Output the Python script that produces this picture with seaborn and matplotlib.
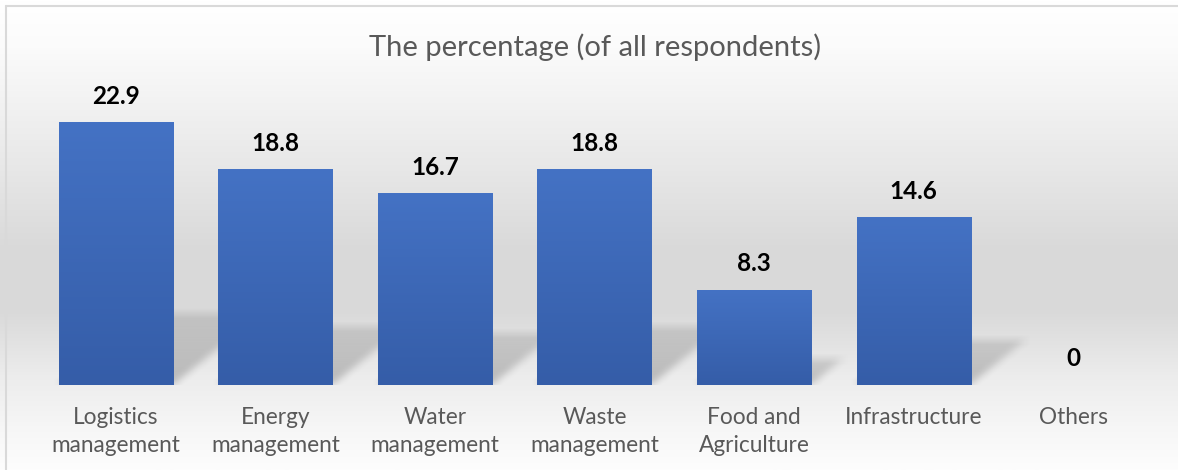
import numpy as np
import pandas as pd
import matplotlib
matplotlib.use("Agg")
import matplotlib.pyplot as plt
import seaborn as sns
from matplotlib.colors import LinearSegmentedColormap
from matplotlib.lines import Line2D

# ---- data ----
categories = ["Logistics\nmanagement", "Energy\nmanagement", "Water\nmanagement",
              "Waste\nmanagement", "Food and\nAgriculture", "Infrastructure", "Others"]
values = [22.9, 18.8, 16.7, 18.8, 8.3, 14.6, 0]
value_labels = ["22.9", "18.8", "16.7", "18.8", "8.3", "14.6", "0"]
title = "The percentage (of all respondents)"

sns.set_theme(style="white")
plt.rcParams["font.family"] = ["Lato", "DejaVu Sans"]

W, H = 1178, 470
fig = plt.figure(figsize=(W / 100, H / 100), dpi=100)

# background gradient over whole figure
bg = fig.add_axes([0, 0, 1, 1], zorder=-10)
stops = [(0.0, "#ffffff"), (0.10, "#fbfbfb"), (0.35, "#e8e8e8"), (0.52, "#dadada"),
         (0.66, "#d9d9d9"), (0.80, "#ececec"), (0.92, "#f7f7f7"), (1.0, "#fdfdfd")]
cmap_bg = LinearSegmentedColormap.from_list("bg", stops)
grad = np.linspace(0, 1, 256).reshape(-1, 1)
bg.imshow(grad, aspect="auto", cmap=cmap_bg, extent=[0, 1, 1, 0], origin="upper")
bg.set_xlim(0, 1); bg.set_ylim(1, 0)
bg.axis("off")
# border (top and left visible)
bg.add_line(Line2D([6 / W, 1], [6 / H, 6 / H], color="#d9d9d9", lw=1.5))
bg.add_line(Line2D([6 / W, 6 / W], [6 / H, 1], color="#d9d9d9", lw=1.5))

# main axes
left = 36 / W
width = 1117 / W
bottom = (H - 385) / H
ymax = 25
px_per_unit = 11.48
height = ymax * px_per_unit / H
ax = fig.add_axes([left, bottom, width, height])
ax.patch.set_alpha(0)

df = pd.DataFrame({"cat": categories, "val": values})
sns.barplot(data=df, x="cat", y="val", ax=ax, color="#4472C4", width=0.715,
            saturation=1, zorder=3)
ax.set_xlim(-0.5, len(categories) - 0.5)
ax.set_ylim(0, ymax)

# shadows (blurred perspective) rendered as an image in data coordinates
nx, ny = 900, 260
x0, x1 = -0.5, len(categories) - 0.5
y0, y1 = 0, ymax
xs = np.linspace(x0, x1, nx)
ys = np.linspace(y0, y1, ny)
X, Y = np.meshgrid(xs, ys)
mask = np.zeros_like(X)
bw = 0.715
for i, v in enumerate(values):
    if v <= 0:
        continue
    sh_h = 0.27 * v
    shift = 0.024 * v
    t = np.clip(Y / sh_h, 0, None)
    inside = (Y <= sh_h) & (X >= i - bw / 2 + shift * t) & (X <= i + bw / 2 + shift * t)
    mask = np.maximum(mask, inside * (0.55 + 0.45 * (1 - t)))

def blur(a, k, axis):
    kern = np.ones(k) / k
    return np.apply_along_axis(lambda m: np.convolve(m, kern, mode="same"), axis, a)

mask = blur(mask, 11, 1)
mask = blur(mask, 9, 0)
rgba = np.zeros((ny, nx, 4))
rgba[..., :3] = 0.45
rgba[..., 3] = mask * 0.42
ax.imshow(rgba, extent=[x0, x1, y0, y1], origin="lower", aspect="auto", zorder=1,
          interpolation="bilinear")

# bar gradient fill
cmap_bar = LinearSegmentedColormap.from_list("bar", ["#355DA8", "#4472C4"])
for p in ax.patches:
    p.set_edgecolor("none")
    bx = p.get_x()
    bwid, bh = p.get_width(), p.get_height()
    if bh <= 0:
        continue
    im = ax.imshow(np.linspace(0, 1, 100).reshape(-1, 1), cmap=cmap_bar, aspect="auto",
                   extent=[bx, bx + bwid, 0, bh], origin="lower", zorder=4,
                   vmin=0, vmax=1)
    im.set_clip_path(p)
ax.set_xlim(-0.5, len(categories) - 0.5)
ax.set_ylim(0, ymax)

# value labels
for i, (v, lab) in enumerate(zip(values, value_labels)):
    ax.annotate(lab, (i, v), xytext=(0, 26 * 0.72), textcoords="offset points",
                ha="center", va="center", fontsize=17.5, fontweight="bold",
                color="#000000", zorder=6)

ax.set_xlabel("")
ax.set_ylabel("")
ax.set_yticks([])
ax.tick_params(axis="x", length=0, pad=16, labelsize=16.3, labelcolor="#595959")
for lab in ax.get_xticklabels():
    lab.set_linespacing(1.4)
    lab.set_verticalalignment("top")
sns.despine(ax=ax, left=True, bottom=True, top=True, right=True)

fig.text(595 / W, 1 - 47 / H, title, ha="center", va="center", fontsize=21,
         color="#595959")

fig.savefig("out.png", dpi=100)
